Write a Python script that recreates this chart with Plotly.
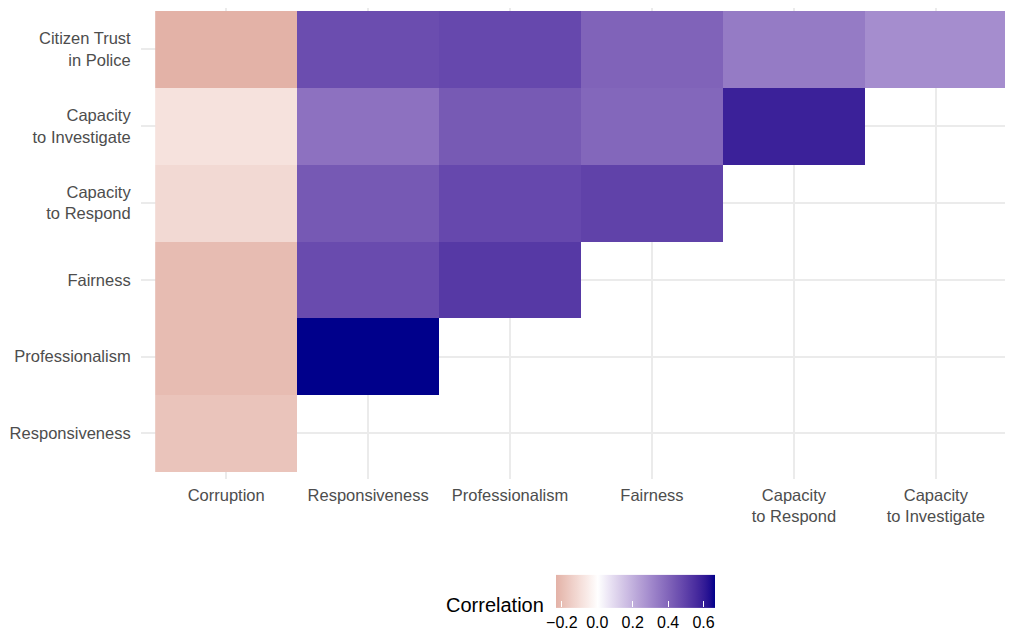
import numpy as np
import plotly.graph_objects as go

# ---- data ----
x_labels = ["Corruption", "Responsiveness", "Professionalism", "Fairness",
            "Capacity<br>to Respond", "Capacity<br>to Investigate"]
y_labels = ["Citizen Trust<br>in Police", "Capacity<br>to Investigate",
            "Capacity<br>to Respond", "Fairness", "Professionalism", "Responsiveness"]

row_citizen_trust = [-0.236, 0.463, 0.476, 0.403, 0.337, 0.289]
row_cap_investigate = [-0.090, 0.363, 0.428, 0.391, 0.586, None]
row_cap_respond = [-0.115, 0.430, 0.477, 0.494, None, None]
row_fairness = [-0.206, 0.470, 0.519, None, None, None]
row_professionalism = [-0.206, 0.662, None, None, None, None]
row_responsiveness = [-0.181, None, None, None, None, None]

z = [row_citizen_trust, row_cap_investigate, row_cap_respond,
     row_fairness, row_professionalism, row_responsiveness]

z_min, z_max = -0.236, 0.662
colorbar_ticks = [-0.2, 0.0, 0.2, 0.4, 0.6]
colorbar_ticktext = ["\u22120.2", "0.0", "0.2", "0.4", "0.6"]

# ---- colour scale: Lab interpolation like ggplot's gradient2 ----
def srgb_to_lab(hexc):
    h = hexc.lstrip("#")
    rgb = np.array([int(h[i:i + 2], 16) / 255 for i in (0, 2, 4)])
    lin = np.where(rgb <= 0.04045, rgb / 12.92, ((rgb + 0.055) / 1.055) ** 2.4)
    M = np.array([[0.4124, 0.3576, 0.1805],
                  [0.2126, 0.7152, 0.0722],
                  [0.0193, 0.1192, 0.9505]])
    xyz = M @ lin / np.array([0.95047, 1.0, 1.08883])
    f = np.where(xyz > 0.008856, np.cbrt(xyz), 7.787 * xyz + 16 / 116)
    return np.array([116 * f[1] - 16, 500 * (f[0] - f[1]), 200 * (f[1] - f[2])])


def lab_to_hex(lab):
    L, a, b = lab
    fy = (L + 16) / 116
    fx = fy + a / 500
    fz = fy - b / 200
    f = np.array([fx, fy, fz])
    xyz = np.where(f ** 3 > 0.008856, f ** 3, (f - 16 / 116) / 7.787)
    xyz = xyz * np.array([0.95047, 1.0, 1.08883])
    Minv = np.array([[3.2406, -1.5372, -0.4986],
                     [-0.9689, 1.8758, 0.0415],
                     [0.0557, -0.2040, 1.0570]])
    lin = Minv @ xyz
    lin = np.clip(lin, 0, 1)
    rgb = np.where(lin <= 0.0031308, 12.92 * lin, 1.055 * lin ** (1 / 2.4) - 0.055)
    rgb = np.clip(np.round(rgb * 255), 0, 255).astype(int)
    return "#%02x%02x%02x" % tuple(rgb)


low_end = srgb_to_lab("#E3B2A7")
white = srgb_to_lab("#FFFFFF")
high_end = srgb_to_lab("#00008B")
mid_pos = (0 - z_min) / (z_max - z_min)

colorscale = []
n = 12
for i in range(n + 1):
    t = i / n
    colorscale.append([mid_pos * t, lab_to_hex(low_end + (white - low_end) * t)])
for i in range(1, n * 2 + 1):
    t = i / (n * 2)
    colorscale.append([mid_pos + (1 - mid_pos) * t, lab_to_hex(white + (high_end - white) * t)])
colorscale[-1][0] = 1.0

FONT = "Liberation Sans, Arial, sans-serif"

fig = go.Figure(go.Heatmap(
    z=z, x=x_labels, y=y_labels,
    zmin=z_min, zmax=z_max,
    colorscale=colorscale,
    hoverongaps=False,
    colorbar=dict(
        orientation="h",
        x=0.5614, xanchor="center",
        y=-0.2696, yanchor="middle",
        len=159, lenmode="pixels",
        thickness=33,
        outlinewidth=0,
        tickvals=colorbar_ticks,
        ticktext=colorbar_ticktext,
        ticks="inside", ticklen=6, tickcolor="white", tickwidth=1,
        tickfont=dict(family=FONT, size=16, color="black"),
        xpad=0, ypad=0,
    ),
))

fig.add_annotation(
    text="Correlation", xref="paper", yref="paper",
    x=0.4602, y=-0.2675, xanchor="right", yanchor="middle",
    showarrow=False, font=dict(family=FONT, size=20, color="black"),
)

fig.update_layout(
    width=1013, height=633,
    margin=dict(l=133, r=0, t=0, b=162, autoexpand=False),
    paper_bgcolor="white", plot_bgcolor="white",
    font=dict(family=FONT, size=16.5, color="#4D4D4D"),
    xaxis=dict(
        type="category", range=[-0.6, 5.6], automargin=False,
        showgrid=True, gridcolor="#EBEBEB", gridwidth=1.6,
        zeroline=False, showline=False,
        ticks="outside", ticklen=1, tickcolor="rgba(0,0,0,0)",
        tickfont=dict(family=FONT, size=16.5, color="#4D4D4D"),
    ),
    yaxis=dict(
        type="category", range=[5.594, -0.539], automargin=False,
        showgrid=True, gridcolor="#EBEBEB", gridwidth=1.6,
        zeroline=False, showline=False,
        ticks="outside", ticklen=6, tickcolor="rgba(0,0,0,0)",
        tickfont=dict(family=FONT, size=16.5, color="#4D4D4D"),
    ),
)

fig.write_html("out.html")
